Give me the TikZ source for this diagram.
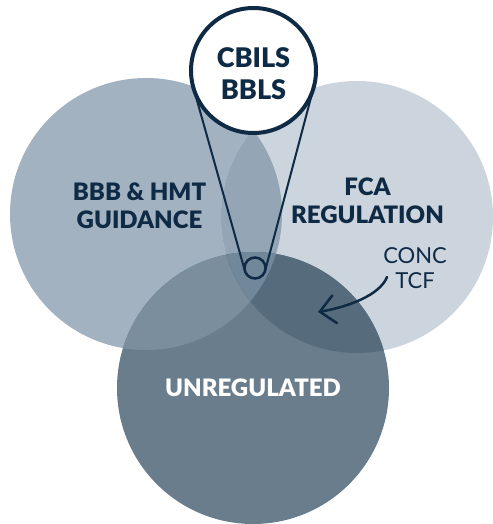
\documentclass[tikz,border=0pt]{standalone}
\usepackage{fontspec}
\setmainfont{Lato}
\newfontfamily\heavy{Lato Black}
\usetikzlibrary{arrows.meta}
\definecolor{navy}{HTML}{0E2A45}
\definecolor{cA}{HTML}{A2B2C0}
\definecolor{cR}{HTML}{CCD5DD}
\definecolor{cB}{HTML}{6A7D8C}
\definecolor{cLR}{HTML}{94A6B5}
\definecolor{cLB}{HTML}{7A8E9E}
\definecolor{cRB}{HTML}{566C7C}
\definecolor{cLRB}{HTML}{71879A}
\begin{document}
\begin{tikzpicture}[x=1pt,y=-1pt,
  biglbl/.style={font=\heavy\fontsize{24}{28}\selectfont, text=navy, align=center, inner sep=0pt},
  toplbl/.style={font=\heavy\fontsize{27}{32}\selectfont, text=navy, align=center, inner sep=0pt},
  smalllbl/.style={font=\fontsize{22}{25}\selectfont, text=navy, align=center, inner sep=0pt},
  ring/.style={circle, draw=navy, inner sep=0pt, outer sep=0pt},
  link/.style={draw=navy, line width=2pt},
  pointer/.style={draw=navy, line width=2.5pt, line cap=round, -{Straight Barb[length=15pt,width=28pt,line cap=round]}}]
\useasboundingbox (0,0) rectangle (492,524);
\def\cL{(146,214) circle[radius=136pt]}
\def\cRt{(357,217) circle[radius=136pt]}
\def\cBt{(253,388) circle[radius=136pt]}
% base circles
\fill[cA] \cL;
\fill[cR] \cRt;
\fill[cB] \cBt;
% overlaps
\begin{scope}\clip \cL; \fill[cLR] \cRt; \end{scope}
\begin{scope}\clip \cL; \fill[cLB] \cBt; \end{scope}
\begin{scope}\clip \cRt; \fill[cRB] \cBt; \end{scope}
\begin{scope}\clip \cL; \clip \cRt; \fill[cLRB] \cBt; \end{scope}
% labels
\node[biglbl] (bbb) at (139.5,206) {BBB \& HMT\\GUIDANCE};
\node[biglbl] (fca) at (367.5,201) {FCA\\REGULATION};
\node[biglbl, text=white] (unreg) at (253,388) {UNREGULATED};
\node[smalllbl] (conc) at (415,268) {CONC\\TCF};
% magnifier
\node[ring, line width=4pt, fill=white, minimum size=125pt] (big) at (253.5,70.5) {};
\node[ring, line width=2.5pt, minimum size=21pt] (small) at (255,268) {};
\draw[link] (big.195.27) -- (small.195.27);
\draw[link] (big.-15.27) -- (small.-15.27);
\node[toplbl] (cbils) at (253.5,74) {CBILS\\BBLS};
% arrow
\coordinate (arrS) at (387,277);
\coordinate (arrT) at (318,312);
\draw[pointer] (arrS) .. controls (380,295) and (348,307) .. (arrT);
\end{tikzpicture}
\end{document}
